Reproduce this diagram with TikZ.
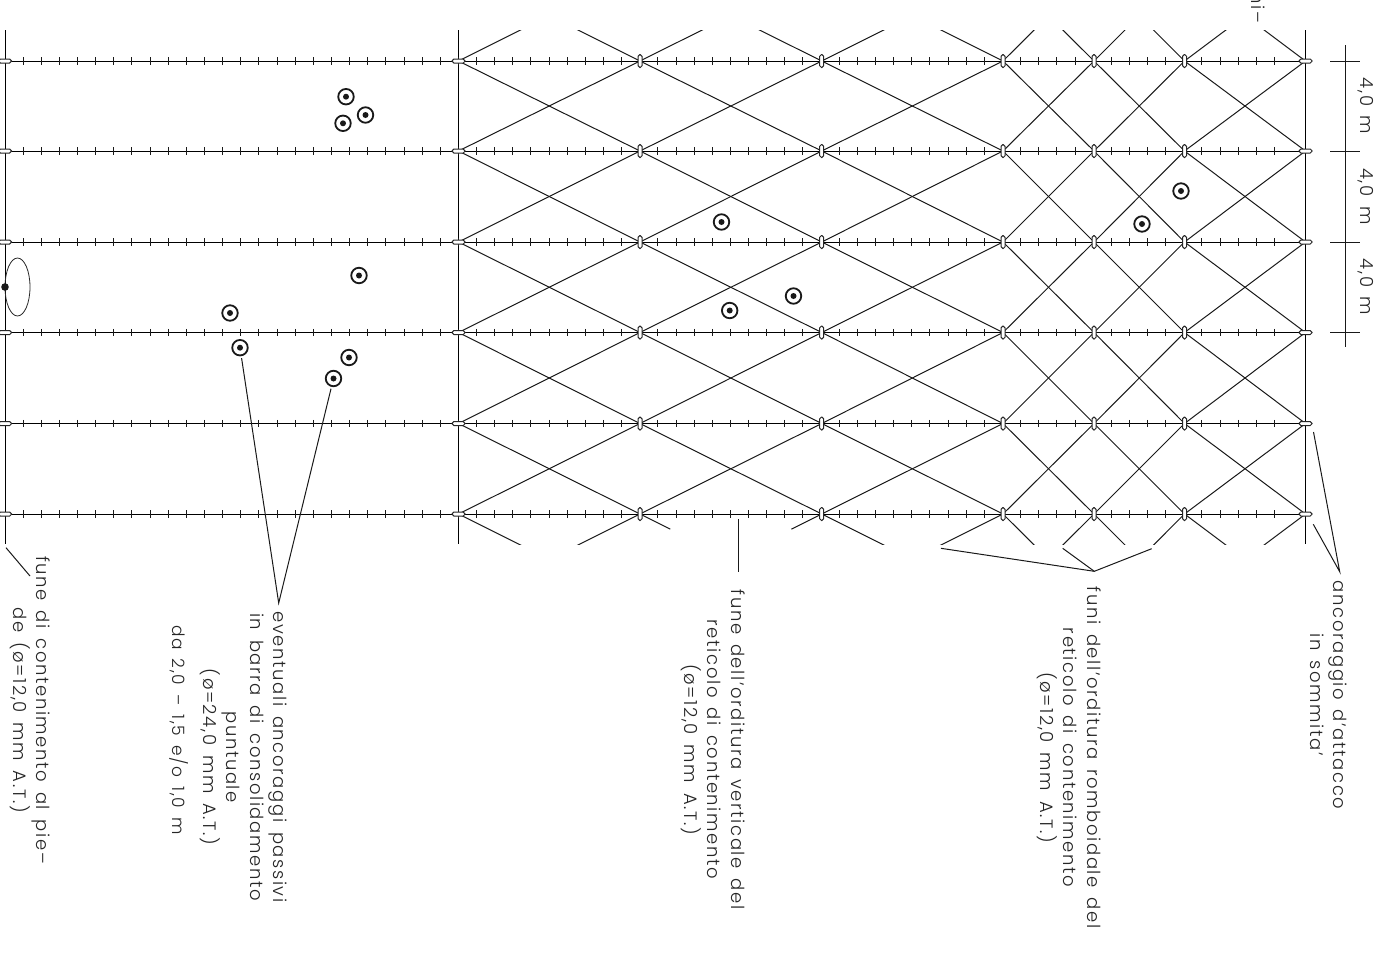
\documentclass[tikz,border=0pt]{standalone}
\usepackage{fontspec}
\setmainfont{Poppins}[UprightFont=* Light,WordSpace=1.5,LetterSpace=9]
\usetikzlibrary{calc}
\tikzset{
 x=1pt,y=-1pt,
 cable/.style={line width=1pt,draw=black},
 tick/.style={line width=.9pt,draw=black!90},
 diag/.style={line width=1pt,draw=black!90},
 leader/.style={line width=1pt,draw=black!90},
 hcap/.style={draw=black!85,fill=white,line width=1pt,rounded corners=1.8pt,minimum width=13pt,minimum height=4pt,inner sep=0pt,outer sep=0pt},
 vcap/.style={draw=black!85,fill=white,line width=1pt,rounded corners=1.8pt,minimum width=4pt,minimum height=13pt,inner sep=0pt,outer sep=0pt},
 lab/.style={rotate=-90,anchor=base,align=center,inner sep=0pt,font=\fontsize{18}{23.5}\selectfont,text=black!85},
 anc/.style={circle,draw=black!90,line width=1.8pt,minimum size=15.5pt,inner sep=0pt,outer sep=0pt,path picture={\fill[black!90] (path picture bounding box.center) circle (3pt);}},
}
\begin{document}
\begin{tikzpicture}
\useasboundingbox (0,0) rectangle (1382,954);
% rows and columns of the net
\foreach \r/\y in {m1/-29.6,0/61,1/151,2/242,3/332.5,4/423.5,5/514,6/604.6}{
  \foreach \c/\x in {a/458.5,b/640,c/821.7,d/1003,e/1094,f/1184.5,g/1305.5}{
    \coordinate (n\c\r) at (\x,\y);
  }
  \coordinate (w\r) at (5,\y);
}
\coordinate (topA) at (5,30); \coordinate (botA) at (5,544);
\coordinate (topB) at (458.5,30); \coordinate (botB) at (458.5,544);
\coordinate (topC) at (1305.5,30); \coordinate (botC) at (1305.5,544);
\draw[cable] (topA)--(botA);
\draw[cable] (topB)--(botB);
\draw[cable] (topC)--(botC);
% diagonals
\begin{scope}
\clip (0,30) rectangle (1382,544);
\foreach \c/\d in {a/b,b/c,c/d,d/e,e/f,f/g}{
  \foreach \r/\s in {m1/0,0/1,1/2,2/3,3/4,4/5}{
    \draw[diag] (n\c\r)--(n\d\s);
    \draw[diag] (n\c\s)--(n\d\r);
  }
}
\foreach \c/\d in {a/b,c/d,d/e,e/f,f/g}{
    \draw[diag] (n\c5)--(n\d6);
    \draw[diag] (n\c6)--(n\d5);
}
\end{scope}
% the two short stubs beside the leader
\draw[diag] (nb5)--($(nb5)!0.1667!(nc6)$);
\draw[diag] (nc5)--($(nc5)!0.1667!(nb6)$);
% rows
\foreach \r in {0,...,5}{
  \draw[cable] (w\r)--(ng\r);
  \foreach \k in {1,...,70}{
    \pgfmathsetmacro\tx{18.135*\k}
    \draw[tick] ($(w\r)+(\tx,-3.7)$)--($(w\r)+(\tx,3.7)$);
  }
}
% anchors and clips
\foreach \r in {0,...,5}{
  \node[hcap] (capw\r) at (w\r) {};
  \node[hcap] (capa\r) at (na\r) {};
  \node[hcap] (capg\r) at (ng\r) {};
  \foreach \c in {b,c,d,e,f}{\node[vcap] (cap\c\r) at (n\c\r) {};}
}
% anchors
\foreach \n/\x/\y in {p1/346/96.7,p2/365.5/115,p3/343/123.3,p4/359/275.5,p5/230/313,p6/240/347.7,p7/349/357.5,p8/333.5/378.5,p9/721.5/222,p10/793.5/296,p11/729.7/310.5,p12/1181/191,p13/1142/224}{
  \node[anc] (\n) at (\x,\y) {};
}
\draw[line width=.8pt,draw=black!85] (17.5,287) ellipse (12.5 and 29);
\fill[black!90] (5,287) circle (3.8);
% dimension
\coordinate (dimT) at (1345,45); \coordinate (dimB) at (1345,347);
\draw[leader] (dimT)--(dimB);
\foreach \r in {0,1,2,3}{\draw[leader] ($(ng\r)+(24.5,0)$)--($(ng\r)+(54.5,0)$);}
\foreach \n/\y in {d1/106,d2/196.5,d3/287}{\node[lab] (\n) at (1360,\y) {4,0 m};}
% labels
\node[lab] (t1) at (13,710) {fune di contenimento al pie--\\de (ø=12,0 mm A.T.)};
\node[lab] (t2) at (203,757) {eventuali ancoraggi passivi\\in barra di consolidamento\\puntuale\\(ø=24,0 mm A.T.)};
\node[lab,font=\fontsize{17}{20}\selectfont] (t3) at (172,730) {da 2,0 -- 1,5 e/o 1,0 m};
\node[lab] (t4) at (684,749.5) {fune dell'orditura verticale del\\reticolo di contenimento\\(ø=12,0 mm A.T.)};
\node[lab] (t5) at (1040,757.5) {funi dell'orditura romboidale del\\reticolo di contenimento\\(ø=12,0 mm A.T.)};
\node[lab] (t6) at (1310,695) {ancoraggio d'attacco\\in sommita'};
\node[rotate=-90,anchor=base east,inner sep=0pt,font=\fontsize{18}{22}\selectfont,text=black!85] (t7) at (1251,23) {ni--};
% leaders
\coordinate (aF) at (30,576); \coordinate (bF) at (6,547.7);
\draw[leader] (bF)--(aF);
\coordinate (aE) at (278.7,603);
\draw[leader] ($(p6)!10.5pt!(aE)$)--(aE)--($(p8)!10.5pt!(aE)$);
\coordinate (vT) at (738,519); \coordinate (vB) at (738,572);
\draw[leader] (vT)--(vB);
\coordinate (aR) at (1094.3,571.3);
\coordinate (r1) at (941,548.3); \coordinate (r2) at (1151.7,548.7); \coordinate (r3) at (1062.7,548.3);
\draw[leader] (r1)--(aR)--(r2);
\draw[leader] (r3)--(aR);
\coordinate (aS) at (1339.7,571.7);
\coordinate (s1) at (1313.5,432); \coordinate (s2) at (1313.3,524.3);
\draw[leader] (s1)--(aS)--(s2);
\end{tikzpicture}
\end{document}
